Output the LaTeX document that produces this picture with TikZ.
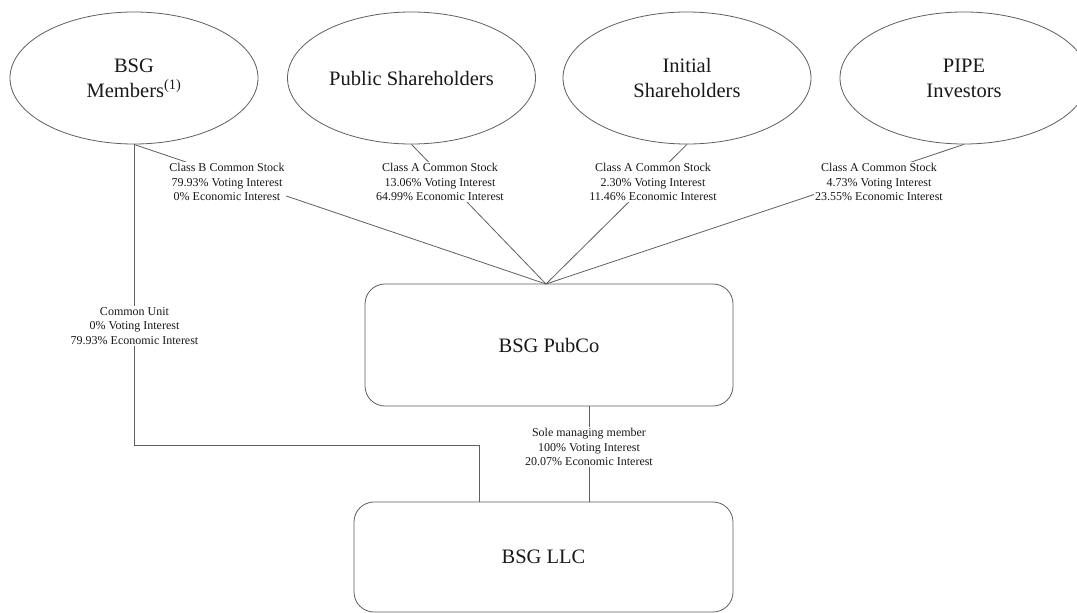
\documentclass[tikz,border=0pt]{standalone}
\usepackage{fontspec}
\setmainfont{Liberation Serif}
\usetikzlibrary{shapes.geometric,calc}
\definecolor{linegray}{RGB}{95,95,95}
\definecolor{textcol}{RGB}{25,25,25}
\tikzset{
  holder/.style={ellipse, draw=linegray, line width=0.8pt, minimum width=248pt, minimum height=132pt, inner sep=0pt, align=center, text=textcol, font=\fontsize{20.5}{25}\selectfont},
  entity/.style={rectangle, rounded corners=20pt, draw=linegray, line width=0.8pt, inner sep=0pt, align=center, text=textcol, font=\fontsize{20.5}{25}\selectfont},
  conn/.style={draw=linegray, line width=0.8pt},
  lbl/.style={fill=white, inner sep=1.5pt, align=center, text=textcol, font=\fontsize{12}{14.5}\selectfont}
}
\begin{document}
\begin{tikzpicture}[x=1pt,y=-1pt]
\useasboundingbox (0,0) rectangle (1077,613);
\fill[white] (0,0) rectangle (1077,613);
% holders
\node[holder] (mem) at (134,78) {BSG\\Members\textsuperscript{(1)}};
\node[holder] (pub) at (411.5,78) {Public Shareholders};
\node[holder] (ini) at (687,78) {Initial\\Shareholders};
\node[holder] (pipe) at (964,78) {PIPE\\Investors};
% entities
\node[entity, minimum width=368pt, minimum height=122pt] (pubco) at (549,345) {BSG PubCo};
\node[entity, minimum width=379pt, minimum height=110pt] (llc) at (543.5,557) {BSG LLC};
% connectors
\coordinate (hub) at (546,284);
\draw[conn] (mem.south) -- (hub);
\draw[conn] (pub.south) -- (hub);
\draw[conn] (ini.south) -- (hub);
\draw[conn] (pipe.south) -- (hub);
\coordinate (elb) at (479,445);
\draw[conn] (mem.south) |- (elb) -- (elb |- llc.north);
\coordinate (sx) at (589,0);
\draw[conn] (sx |- pubco.south) -- (sx |- llc.north);
% labels
\node[lbl] (lmem) at (227,182) {Class B Common Stock\\79.93\% Voting Interest\\0\% Economic Interest};
\node[lbl] (lpub) at (440,182) {Class A Common Stock\\13.06\% Voting Interest\\64.99\% Economic Interest};
\node[lbl] (lini) at (653,182) {Class A Common Stock\\2.30\% Voting Interest\\11.46\% Economic Interest};
\node[lbl] (lpipe) at (879,182) {Class A Common Stock\\4.73\% Voting Interest\\23.55\% Economic Interest};
\node[lbl] (lcu) at (134.5,326) {Common Unit\\0\% Voting Interest\\79.93\% Economic Interest};
\node[lbl] (lsole) at (589,447) {Sole managing member\\100\% Voting Interest\\20.07\% Economic Interest};
\end{tikzpicture}
\end{document}
